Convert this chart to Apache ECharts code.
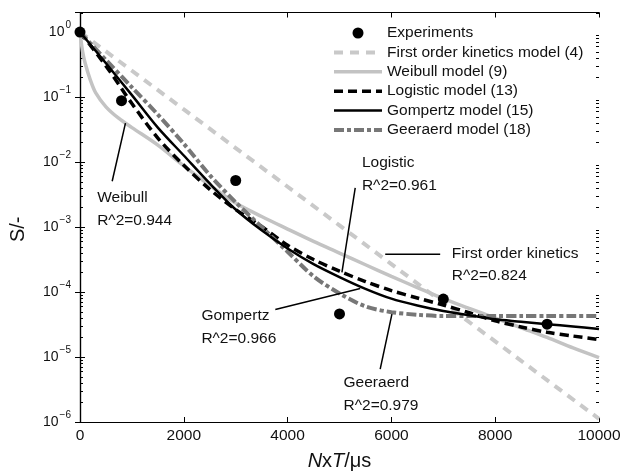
<!DOCTYPE html>
<html>
<head>
<meta charset="utf-8">
<script src="https://cdn.jsdelivr.net/npm/echarts@6/dist/echarts.min.js"></script>
<style>
  html, body { margin: 0; padding: 0; background: #fff; }
  #chart { width: 624px; height: 476px; }
</style>
</head>
<body>
<div id="chart"></div>
<script>
// Survival ratio S versus treatment N x T (microseconds), log scale.
const expT = [0, 800, 3000, 5000, 7000, 9000];
const expS = [1, 0.088, 5.2e-3, 4.6e-5, 7.8e-5, 3.2e-5];

const firstOrderT = [0, 1000, 2000, 3000, 4000, 5000, 6000, 7000, 8000, 9000, 10000];
const firstOrderS = [1, 0.254, 0.0646, 0.0164, 4.17e-3, 1.06e-3, 2.69e-4, 6.8e-5, 1.74e-5, 4.4e-6, 1.12e-6];

const weibullT = [0, 50, 100, 200, 300, 500, 750, 1000, 1500, 2000, 2500, 3000, 3500, 4000, 4500,
                  5000, 5500, 6000, 6500, 7000, 7500, 8000, 8500, 9000, 9500, 10000];
const weibullS = [1, 0.50, 0.331, 0.182, 0.117, 0.0708, 0.0468, 0.0339, 0.0182, 8.71e-3, 4.37e-3,
                  2.34e-3, 1.45e-3, 9.3e-4, 6.0e-4, 3.98e-4, 2.63e-4, 1.74e-4, 1.17e-4, 7.9e-5,
                  5.6e-5, 3.98e-5, 2.82e-5, 2.0e-5, 1.38e-5, 9.8e-6];

const modelT = [0, 500, 1000, 1500, 2000, 2500, 3000, 3500, 4000, 4500, 5000,
                5500, 6000, 6500, 7000, 7500, 8000, 8500, 9000, 9500, 10000];
const logisticS = [1, 0.302, 0.0794, 0.0234, 8.9e-3, 3.8e-3, 1.86e-3, 1.02e-3, 5.25e-4, 3.16e-4, 2.09e-4,
                   1.45e-4, 1.05e-4, 8.1e-5, 6.3e-5, 4.8e-5, 3.6e-5, 2.9e-5, 2.4e-5, 2.1e-5, 1.86e-5];
const gompertzS = [1, 0.331, 0.107, 0.0339, 0.0126, 4.68e-3, 1.86e-3, 8.9e-4, 4.68e-4, 2.69e-4, 1.70e-4,
                   1.12e-4, 7.9e-5, 6.2e-5, 5.1e-5, 4.4e-5, 3.8e-5, 3.5e-5, 3.2e-5, 2.95e-5, 2.7e-5];
const geeraerdS = [1, 0.372, 0.141, 0.0537, 0.0191, 6.3e-3, 2.4e-3, 1.0e-3, 4.17e-4, 1.74e-4, 9.5e-5,
                   6.0e-5, 4.9e-5, 4.47e-5, 4.27e-5, 4.27e-5, 4.27e-5, 4.27e-5, 4.27e-5, 4.27e-5, 4.27e-5];

const seriesNames = ['Experiments', 'First order kinetics model (4)', 'Weibull model (9)',
                     'Logistic model (13)', 'Gompertz model (15)', 'Geeraerd model (18)'];
const xTicks = [0, 2000, 4000, 6000, 8000, 10000];

// Model annotations: text block anchored at its top-left, plus a leader line (data coords)
const notes = [
  { text: 'Weibull\nR^2=0.944',              at: [331, 4.2e-3],  from: [620, 5.06e-3],  to: [876, 0.0398] },
  { text: 'Logistic\nR^2=0.961',             at: [5432, 0.0145], from: [5303, 4.0e-3],  to: [5047, 2.0e-4] },
  { text: 'First order kinetics\nR^2=0.824', at: [7165, 5.8e-4], from: [5881, 3.8e-4],  to: [6940, 3.8e-4] },
  { text: 'Gompertz\nR^2=0.966',             at: [2339, 6.4e-5], from: [3763, 5.4e-5],  to: [5399, 1.13e-4] },
  { text: 'Geeraerd\nR^2=0.979',             at: [5078, 5.9e-6], from: [5784, 6.5e-6],  to: [6010, 4.57e-5] }
];

const FONT = "'Liberation Sans', Arial, sans-serif";
const pairs = (t, s) => t.map((v, i) => [v, s[i]]);

const chart = echarts.init(document.getElementById('chart'), null, { renderer: 'canvas' });

function powLabel(v) {
  const e = Math.log10(v);
  const k = Math.round(e);
  if (Math.abs(e - k) > 1e-6) return '';
  const exp = k < 0 ? '\u2212' + (-k) : String(k);
  return '{b|10}{s|' + exp + '}';
}

// model curves: no point symbols, and a hidden marker in the legend icon
const lineBase = {
  type: 'line', symbol: 'none', showSymbol: false, smooth: 0.3, animation: false,
  itemStyle: { color: 'rgba(0,0,0,0)', borderWidth: 0, opacity: 0 }
};

const legendData = seriesNames.map((n, i) => i === 0
  ? { name: n }
  : { name: n, itemStyle: { opacity: 0 } });

chart.setOption({
  animation: false,
  backgroundColor: '#fff',
  textStyle: { fontFamily: FONT, color: '#000' },
  grid: { left: 80, right: 25, top: 12.5, bottom: 53, containLabel: false },
  legend: {
    orient: 'vertical',
    left: 332, top: 23.3,
    padding: 0,
    itemGap: 0,
    itemWidth: 48,
    itemHeight: 11,
    data: legendData,
    lineStyle: { width: 'inherit', type: 'inherit', color: 'inherit' },
    textStyle: { fontFamily: FONT, fontSize: 15.5, color: '#111', lineHeight: 19.4 },
    selectedMode: false
  },
  xAxis: [
    {
      type: 'value', min: 0, max: 10000, interval: 2000,
      name: '{i|N}x{i|T}/\u03bcs',
      nameLocation: 'middle', nameGap: 29,
      nameTextStyle: { fontFamily: FONT, fontSize: 20, color: '#111',
        rich: { i: { fontFamily: FONT, fontSize: 20, fontStyle: 'italic', color: '#111' } } },
      axisLine: { show: true, lineStyle: { color: '#000', width: 1.2 } },
      axisTick: { show: true, inside: true, length: 5, lineStyle: { color: '#000', width: 1 } },
      axisLabel: { margin: 6, fontSize: 15.5, color: '#111', fontFamily: FONT,
        formatter: v => xTicks.includes(v) ? String(v) : '' },
      splitLine: { show: false }
    },
    {
      type: 'value', min: 0, max: 10000, interval: 2000, position: 'top',
      axisLine: { show: true, lineStyle: { color: '#000', width: 1.2 } },
      axisTick: { show: true, inside: true, length: 5, lineStyle: { color: '#000', width: 1 } },
      axisLabel: { show: false },
      splitLine: { show: false }
    }
  ],
  yAxis: [
    {
      type: 'log', logBase: 10, min: 1e-6, max: 2,
      name: 'S/-', nameLocation: 'middle', nameGap: 52, nameRotate: 90,
      nameTextStyle: { fontFamily: FONT, fontSize: 20, color: '#111', padding: [0, 24, 0, 0] },
      axisLine: { show: true, lineStyle: { color: '#000', width: 1.2 } },
      axisTick: { show: true, inside: true, length: 5, lineStyle: { color: '#000', width: 1 } },
      axisLabel: {
        margin: 9, formatter: powLabel,
        rich: {
          b: { fontFamily: FONT, fontSize: 14, color: '#111' },
          s: { fontFamily: FONT, fontSize: 10, color: '#111', padding: [0, 0, 13, 1] }
        }
      },
      splitLine: { show: false }
    },
    {
      type: 'log', logBase: 10, min: 1e-6, max: 2, position: 'right',
      axisLine: { show: true, lineStyle: { color: '#000', width: 1.2 } },
      axisTick: { show: true, inside: true, length: 5, lineStyle: { color: '#000', width: 1 } },
      axisLabel: { show: false },
      splitLine: { show: false }
    }
  ],
  series: [
    {
      name: seriesNames[0], type: 'scatter', data: pairs(expT, expS),
      symbol: 'circle', symbolSize: 11, z: 6,
      itemStyle: { color: '#000', opacity: 1 }
    },
    Object.assign({}, lineBase, {
      name: seriesNames[1], data: pairs(firstOrderT, firstOrderS), smooth: false, z: 2,
      lineStyle: { color: '#c9c9c9', width: 4, type: [9, 7], cap: 'butt' }
    }),
    Object.assign({}, lineBase, {
      name: seriesNames[2], data: pairs(weibullT, weibullS), z: 2,
      lineStyle: { color: '#c3c3c3', width: 3.5, type: 'solid' }
    }),
    Object.assign({}, lineBase, {
      name: seriesNames[3], data: pairs(modelT, logisticS), z: 3,
      lineStyle: { color: '#000', width: 3.5, type: [9, 5], cap: 'butt' }
    }),
    Object.assign({}, lineBase, {
      name: seriesNames[4], data: pairs(modelT, gompertzS), z: 4,
      lineStyle: { color: '#000', width: 2.5, type: 'solid' }
    }),
    Object.assign({}, lineBase, {
      name: seriesNames[5], data: pairs(modelT, geeraerdS), z: 3,
      lineStyle: { color: '#777', width: 4, type: [10, 3, 4, 3], cap: 'butt' }
    })
  ]
});

// Minor log ticks on both vertical axes and model annotations, placed through the axes
function decorate() {
  const g = [];
  const xl = chart.convertToPixel({ xAxisIndex: 0 }, 0);
  const xr = chart.convertToPixel({ xAxisIndex: 0 }, 10000);
  for (let k = -6; k <= 0; k++) {
    for (let m = 2; m <= 9; m++) {
      const v = m * Math.pow(10, k);
      if (v > 2) continue;
      const y = Math.round(chart.convertToPixel({ yAxisIndex: 0 }, v)) + 0.5;
      g.push({ type: 'line', shape: { x1: xl, y1: y, x2: xl + 3, y2: y }, style: { stroke: '#000', lineWidth: 1 }, silent: true });
      g.push({ type: 'line', shape: { x1: xr, y1: y, x2: xr - 3, y2: y }, style: { stroke: '#000', lineWidth: 1 }, silent: true });
    }
  }
  notes.forEach(n => {
    const p = chart.convertToPixel({ gridIndex: 0 }, n.at);
    const a = chart.convertToPixel({ gridIndex: 0 }, n.from);
    const b = chart.convertToPixel({ gridIndex: 0 }, n.to);
    g.push({ type: 'line', z: 20, shape: { x1: a[0], y1: a[1], x2: b[0], y2: b[1] }, style: { stroke: '#000', lineWidth: 1.5 }, silent: true });
    g.push({ type: 'text', z: 20, x: p[0], y: p[1], silent: true,
      style: { text: n.text, font: '15.5px ' + FONT, fill: '#111', lineHeight: 22.5, textAlign: 'left', textVerticalAlign: 'top' } });
  });
  chart.setOption({ graphic: g });
}
decorate();
</script>
</body>
</html>
